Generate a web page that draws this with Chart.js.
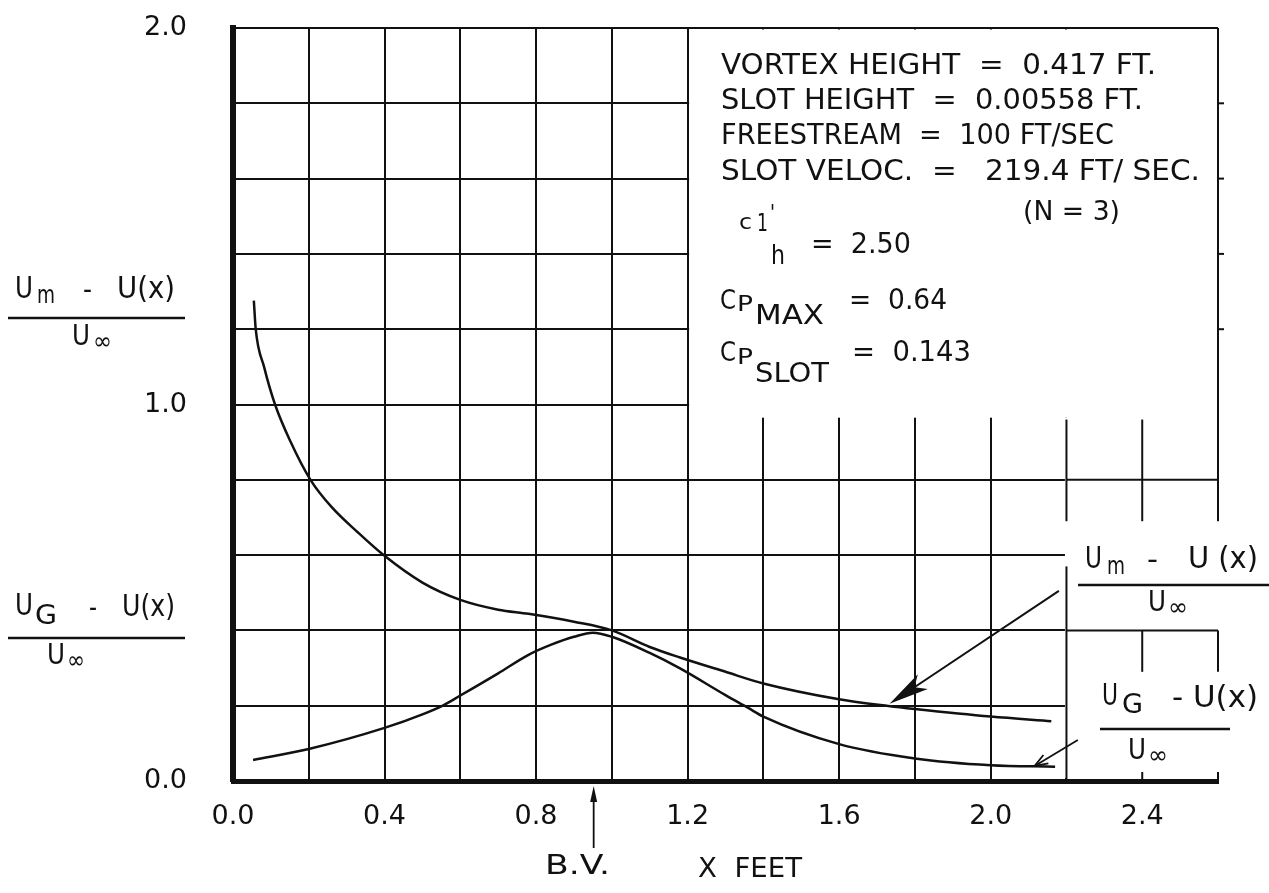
<!DOCTYPE html>
<html>
<head>
<meta charset="utf-8">
<script src="https://cdn.jsdelivr.net/npm/chart.js@4.4.1/dist/chart.umd.min.js"></script>
<style>
  html, body { margin: 0; padding: 0; background: #fff; }
  #wrap { width: 1269px; height: 893px; }
</style>
</head>
<body>
<div id="wrap"><canvas id="chart"></canvas></div>
<script>
// (Um - U(x)) / Uinf  -- upper curve
const umX = [0.055, 0.060, 0.082, 0.111, 0.152, 0.2045, 0.26, 0.33, 0.40, 0.50, 0.60, 0.70, 0.78, 0.90, 1.00, 1.10, 1.18, 1.30, 1.40, 1.60, 1.73, 1.80, 2.00, 2.16];
const umY = [1.276, 1.20, 1.10, 1.00, 0.901, 0.80, 0.728, 0.66, 0.598, 0.527, 0.481, 0.455, 0.444, 0.423, 0.40, 0.356, 0.328, 0.29, 0.259, 0.217, 0.199, 0.191, 0.171, 0.159];

// (UG - U(x)) / Uinf  -- lower curve
const ugX = [0.053, 0.20, 0.40, 0.50, 0.555, 0.60, 0.70, 0.78, 0.84, 0.90, 0.95, 1.00, 1.10, 1.18, 1.30, 1.36, 1.40, 1.60, 1.80, 2.00, 2.17];
const ugY = [0.056, 0.085, 0.141, 0.177, 0.201, 0.227, 0.286, 0.335, 0.362, 0.383, 0.394, 0.383, 0.34, 0.299, 0.228, 0.194, 0.171, 0.098, 0.060, 0.042, 0.038];

// tick labels shown on the axes
const xTickLabels = ['0.0', '0.4', '0.8', '1.2', '1.6', '2.0', '2.4'];
const yTickLabels = ['0.0', '1.0', '2.0'];

const FONT = '"DejaVu Sans", sans-serif';
const INK = '#111';

// draw text squeezed/stretched to a given width
function fitText(ctx, str, x, y, size, width) {
    ctx.font = `${size}px ${FONT}`;
    const m = ctx.measureText(str).width;
    ctx.save();
    ctx.translate(x, y);
    ctx.scale(width / m, 1);
    ctx.fillText(str, 0, 0);
    ctx.restore();
}

function hline(ctx, x0, x1, y, w) {
    ctx.lineWidth = w;
    ctx.beginPath();
    ctx.moveTo(x0, y);
    ctx.lineTo(x1, y);
    ctx.stroke();
}

// white-out of the grid behind the notes, plus the partial grid on the right
const paperPlugin = {
    id: 'paper',
    beforeDatasetsDraw(chart) {
        const { ctx, chartArea: a, scales: { x, y } } = chart;
        const px = v => x.getPixelForValue(v);
        const py = v => y.getPixelForValue(v);
        ctx.save();
        ctx.fillStyle = '#fff';
        const bx0 = px(1.2) + 1.5, bx1 = px(2.6) + 4;
        const by1 = py(0.965);
        ctx.fillRect(bx0, a.top + 1.5, bx1 - bx0, by1 - a.top - 1.5);
        const rx0 = px(2.2) - 1.5;
        ctx.fillRect(rx0, by1, bx1 - rx0, a.bottom - 3 - by1);

        ctx.strokeStyle = INK;
        ctx.lineWidth = 2;
        const seg = (x0, y0, x1, y1) => {
            ctx.beginPath();
            ctx.moveTo(px(x0), py(y0));
            ctx.lineTo(px(x1), py(y1));
            ctx.stroke();
        };
        seg(2.6, 2.0, 2.6, 0.69);
        seg(2.2, 0.8, 2.6, 0.8);
        seg(2.2, 0.4, 2.6, 0.4);
        seg(2.2, 0.96, 2.2, 0.69);
        seg(2.4, 0.96, 2.4, 0.69);
        seg(2.4, 0.4, 2.4, 0.29);
        seg(2.6, 0.4, 2.6, 0.29);
        seg(2.2, 0.57, 2.2, 0.0);
        // little stubs on the outside of the note box
        [1.2, 1.4, 1.6, 1.8].forEach(v => hline(ctx, px(2.6), px(2.6) + 6, py(v), 2));
        // short ticks on the bottom axis past the grid
        [2.4, 2.6].forEach(v => {
            ctx.beginPath();
            ctx.moveTo(px(v), a.bottom);
            ctx.lineTo(px(v), a.bottom - 9);
            ctx.stroke();
        });
        ctx.restore();
    },
    afterDraw(chart) {
        const { ctx, scales: { x, y } } = chart;
        const px = v => x.getPixelForValue(v);
        const py = v => y.getPixelForValue(v);
        ctx.save();
        ctx.fillStyle = INK;
        ctx.strokeStyle = INK;
        ctx.textBaseline = 'middle';
        ctx.textAlign = 'left';

        // big arrow onto the Um curve
        let sx = px(2.18), sy = py(0.505), tx = px(1.733), ty = py(0.205);
        let dx = tx - sx, dy = ty - sy, len = Math.hypot(dx, dy);
        let ux = dx / len, uy = dy / len;
        ctx.lineWidth = 2;
        ctx.beginPath(); ctx.moveTo(sx, sy); ctx.lineTo(tx - ux * 20, ty - uy * 20); ctx.stroke();
        ctx.beginPath();
        ctx.moveTo(tx, ty);
        ctx.lineTo(tx - ux * 40 - uy * 9, ty - uy * 40 + ux * 9);
        ctx.lineTo(tx - ux * 30, ty - uy * 30);
        ctx.lineTo(tx - ux * 40 + uy * 9, ty - uy * 40 - ux * 9);
        ctx.closePath();
        ctx.fill();

        // small arrow onto the UG curve
        sx = px(2.23); sy = py(0.109); tx = px(2.116); ty = py(0.040);
        dx = tx - sx; dy = ty - sy; len = Math.hypot(dx, dy);
        ux = dx / len; uy = dy / len;
        ctx.lineWidth = 1.8;
        ctx.beginPath(); ctx.moveTo(sx, sy); ctx.lineTo(tx, ty); ctx.stroke();
        const a1 = Math.atan2(uy, ux);
        ctx.beginPath();
        ctx.moveTo(tx - 14 * Math.cos(a1 - 0.35), ty - 14 * Math.sin(a1 - 0.35));
        ctx.lineTo(tx, ty);
        ctx.lineTo(tx - 14 * Math.cos(a1 + 0.35), ty - 14 * Math.sin(a1 + 0.35));
        ctx.stroke();

        // B.V. arrow below the axis
        const bvx = px(0.952), bvTop = y.bottom + 5;
        ctx.lineWidth = 1.8;
        ctx.beginPath(); ctx.moveTo(bvx, bvTop + 62); ctx.lineTo(bvx, bvTop + 8); ctx.stroke();
        ctx.beginPath();
        ctx.moveTo(bvx, bvTop);
        ctx.lineTo(bvx - 3.5, bvTop + 16);
        ctx.lineTo(bvx + 3.5, bvTop + 16);
        ctx.closePath();
        ctx.fill();

        fitText(ctx, 'B.V.', 545, 867, 26, 65);
        fitText(ctx, 'X  FEET', 698, 870, 26, 104);

        // notes box
        fitText(ctx, 'VORTEX HEIGHT  =  0.417 FT.', 721, 67, 28, 435);
        fitText(ctx, 'SLOT HEIGHT  =  0.00558 FT.', 721, 102, 28, 422);
        fitText(ctx, 'FREESTREAM  =  100 FT/SEC', 721, 137, 28, 393);
        fitText(ctx, 'SLOT VELOC.  =   219.4 FT/ SEC.', 721, 173, 28, 479);
        fitText(ctx, '(N = 3)', 1023, 213, 26, 97);

        fitText(ctx, 'c', 739, 223, 22, 13);
        fitText(ctx, '1', 757, 225, 24, 11);
        fitText(ctx, '\'', 770, 214, 22, 5);
        fitText(ctx, 'h', 771, 257, 26, 14);
        fitText(ctx, '=  2.50', 811, 246, 28, 100);

        fitText(ctx, 'C', 720, 302, 26, 16);
        fitText(ctx, 'P', 737, 305, 22, 16);
        fitText(ctx, 'MAX', 755, 317, 26, 69);
        fitText(ctx, '=  0.64', 849, 302, 28, 98);

        fitText(ctx, 'C', 720, 354, 26, 16);
        fitText(ctx, 'P', 737, 358, 22, 16);
        fitText(ctx, 'SLOT', 755, 375, 26, 74);
        fitText(ctx, '=  0.143', 852, 354, 28, 119);

        // left axis labels
        fitText(ctx, 'U', 15, 290, 31, 18);
        fitText(ctx, 'm', 37, 297, 24, 18);
        fitText(ctx, '-', 83, 292, 28, 9);
        fitText(ctx, 'U(x)', 117, 290, 31, 58);
        hline(ctx, 8, 185, 318, 2.5);
        fitText(ctx, 'U', 72, 338, 28, 18);
        fitText(ctx, '\u221E', 93, 343, 24, 19);

        fitText(ctx, 'U', 15, 607, 31, 18);
        fitText(ctx, 'G', 35, 617, 26, 22);
        fitText(ctx, '-', 89, 610, 28, 8);
        fitText(ctx, 'U(x)', 122, 608, 31, 53);
        hline(ctx, 8, 185, 638, 2.5);
        fitText(ctx, 'U', 47, 657, 28, 18);
        fitText(ctx, '\u221E', 67, 662, 24, 18);

        // right-hand curve labels
        fitText(ctx, 'U', 1085, 560, 31, 17);
        fitText(ctx, 'm', 1107, 568, 24, 18);
        fitText(ctx, '-', 1147, 562, 28, 11);
        fitText(ctx, 'U (x)', 1188, 560, 31, 70);
        hline(ctx, 1078, 1269, 585, 2.5);
        fitText(ctx, 'U', 1148, 604, 28, 18);
        fitText(ctx, '\u221E', 1168, 609, 24, 20);

        fitText(ctx, 'U', 1102, 697, 31, 16);
        fitText(ctx, 'G', 1122, 706, 26, 21);
        fitText(ctx, '- U(x)', 1172, 699, 31, 86);
        hline(ctx, 1100, 1230, 729, 2.5);
        fitText(ctx, 'U', 1128, 752, 28, 18);
        fitText(ctx, '\u221E', 1148, 757, 24, 20);

        ctx.restore();
    }
};

function initChart() {
    const ctx = document.getElementById('chart').getContext('2d');
    new Chart(ctx, {
        type: 'line',
        data: {
            datasets: [{
                label: 'Um',
                data: umX.map((v, i) => ({ x: v, y: umY[i] })),
                borderColor: INK,
                borderWidth: 2.5,
                pointRadius: 0,
                cubicInterpolationMode: 'monotone',
                fill: false
            }, {
                label: 'UG',
                data: ugX.map((v, i) => ({ x: v, y: ugY[i] })),
                borderColor: INK,
                borderWidth: 2.5,
                pointRadius: 0,
                cubicInterpolationMode: 'monotone',
                fill: false
            }]
        },
        options: {
            responsive: true,
            maintainAspectRatio: false,
            animation: false,
            layout: { padding: { left: 0, top: 28, right: 51, bottom: 0 } },
            plugins: { legend: { display: false }, tooltip: { enabled: false } },
            scales: {
                x: {
                    type: 'linear',
                    min: 0,
                    max: 2.6,
                    afterFit: s => {
                        s.height = 112;
                        s.paddingLeft = 0;
                        s.paddingRight = 0;
                    },
                    afterBuildTicks: s => {
                        s.ticks = [];
                        for (let i = 0; i <= 13; i++) s.ticks.push({ value: i / 5 });
                    },
                    ticks: {
                        autoSkip: false,
                        maxRotation: 0,
                        padding: 20,
                        color: INK,
                        font: { family: FONT, size: 27 },
                        callback: function(value) {
                            const label = value.toFixed(1);
                            return xTickLabels.includes(label) ? label : '';
                        }
                    },
                    grid: {
                        drawTicks: false,
                        lineWidth: 2,
                        color: c => (c.tick && c.tick.value <= 2.2001 ? INK : 'rgba(0,0,0,0)')
                    },
                    border: { display: true, color: INK, width: 5 }
                },
                y: {
                    type: 'linear',
                    min: 0,
                    max: 2.0,
                    afterFit: s => {
                        s.width = 233;
                        s.paddingTop = 0;
                        s.paddingBottom = 0;
                    },
                    afterBuildTicks: s => {
                        s.ticks = [];
                        for (let i = 0; i <= 10; i++) s.ticks.push({ value: i / 5 });
                    },
                    ticks: {
                        autoSkip: false,
                        padding: 46,
                        color: INK,
                        font: { family: FONT, size: 27 },
                        callback: function(value) {
                            const label = value.toFixed(1);
                            return yTickLabels.includes(label) ? label : '';
                        }
                    },
                    grid: { drawTicks: false, lineWidth: 2, color: INK },
                    border: { display: true, color: INK, width: 6 }
                }
            }
        },
        plugins: [paperPlugin]
    });
}

document.addEventListener('DOMContentLoaded', () => {
    initChart();
});
</script>
</body>
</html>
